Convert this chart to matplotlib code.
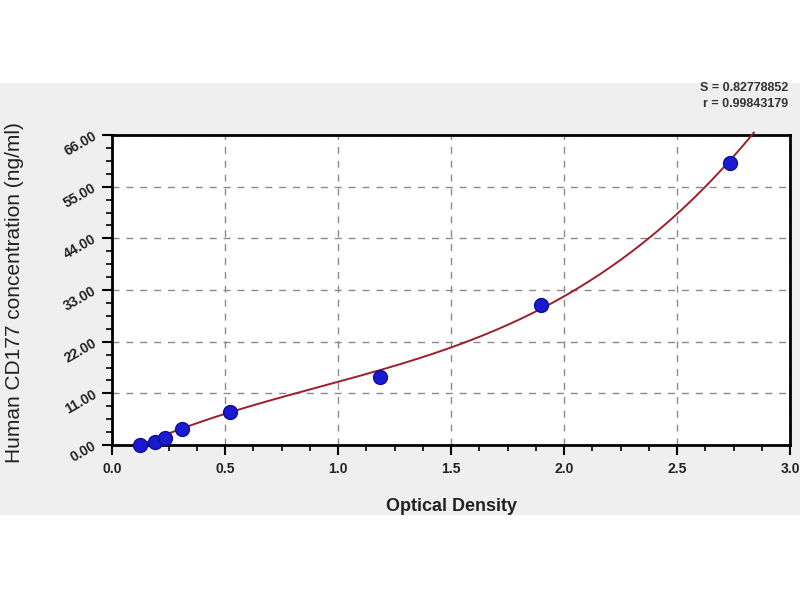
import matplotlib
matplotlib.use("Agg")
import matplotlib.pyplot as plt
import numpy as np
from matplotlib.patches import Rectangle

# standard points (OD, concentration)
od = [0.124, 0.19, 0.235, 0.31, 0.52, 1.186, 1.90, 2.735]
conc = [0.0, 0.6, 1.5, 3.4, 7.0, 14.5, 29.8, 60.0]

# points
curve_x = [0.11, 0.30, 0.50, 0.83, 1.00, 1.19, 1.50, 1.90, 2.00, 2.50, 2.84]
curve_y = [0.0, 3.2, 6.4, 11.0, 13.2, 16.0, 21.7, 29.2, 31.5, 48.3, 67.0]

yticks = [0.0, 11.0, 22.0, 33.0, 44.0, 55.0, 66.0]
xticks = [0.0, 0.5, 1.0, 1.5, 2.0, 2.5, 3.0]

plt.rcParams['font.family'] = ['Liberation Sans', 'DejaVu Sans']

fig = plt.figure(figsize=(8, 6), dpi=100)
fig.patch.set_facecolor('white')
# grey band behind the plot
fig.patches.append(Rectangle((0, 85/600), 1, 432/600, transform=fig.transFigure,
                             facecolor='#efefef', edgecolor='none', zorder=-10))

ax = fig.add_axes([0.14, 0.2583, 0.8475, 0.5167])
ax.set_facecolor('white')

# fitted curve
coef = np.polyfit(curve_x, curve_y, 3)
xs = np.linspace(curve_x[0], curve_x[-1], 300)
ax.plot(xs, np.polyval(coef, xs), color='#9c1f2b', lw=1.4, clip_on=False, zorder=3)

ax.plot(od, conc, 'o', color='#1a1ad0', mec='#10109a', ms=10, zorder=4, clip_on=False)

ax.set_xlim(0, 3.0)
ax.set_ylim(0, 66)
ax.set_xticks(xticks)
ax.set_yticks(yticks)
ax.set_xticks(np.arange(0, 3.01, 0.125), minor=True)
ax.set_yticks(np.arange(0, 66.1, 2.75), minor=True)
ax.set_xticklabels(['%.1f' % v for v in xticks], fontsize=10, fontweight='bold', color='#222222')
ax.set_yticklabels(['%.2f' % v for v in yticks], fontsize=10, fontweight='bold', color='#222222',
                   rotation=30, ha='right', va='center', rotation_mode='anchor')
ax.tick_params(which='major', direction='out', length=7, width=1.5, pad=5)
ax.tick_params(which='minor', direction='out', length=4, width=1.2)
for sp in ax.spines.values():
    sp.set_linewidth(2)
ax.grid(True, which='major', ls=(0, (5, 5)), color='#8a8a8a', lw=1)
ax.set_axisbelow(True)

ax.set_xlabel('Optical Density', fontsize=13, fontweight='bold', labelpad=16, color='#222222')
fig.text(0.018, 0.513, 'Human CD177 concentration (ng/ml)', rotation=90,
         fontsize=15, ha='center', va='center', color='#222222')

fig.text(0.985, 0.853, 'S = 0.82778852', ha='right', va='center', fontsize=9, fontweight='bold', color='#333333')
fig.text(0.985, 0.827, 'r = 0.99843179', ha='right', va='center', fontsize=9, fontweight='bold', color='#333333')

fig.savefig('out.png', dpi=100)
